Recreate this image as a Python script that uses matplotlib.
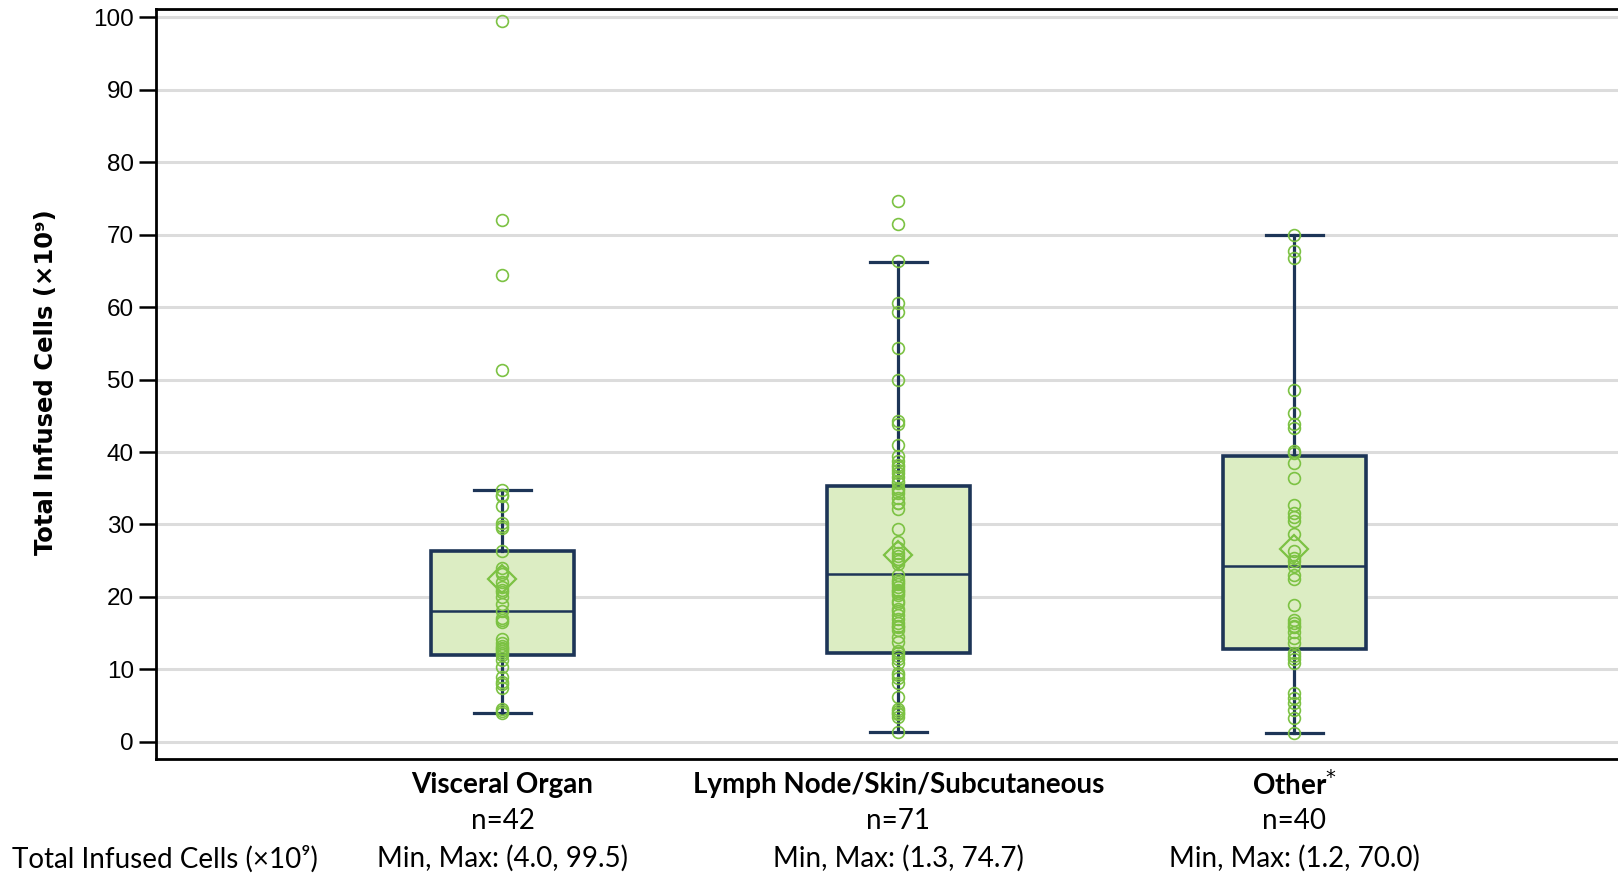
import matplotlib
matplotlib.use("Agg")
import matplotlib.pyplot as plt

# categories and summary stats
categories = ["Visceral Organ", "Lymph Node/Skin/Subcutaneous", "Other"]
n_counts = [42, 71, 40]
min_max = ["(4.0, 99.5)", "(1.3, 74.7)", "(1.2, 70.0)"]

q1 = [12.0, 12.3, 12.8]
medians = [18.0, 23.2, 24.3]
q3 = [26.4, 35.3, 39.4]
whisk_lo = [4.0, 1.3, 1.2]
whisk_hi = [34.8, 66.2, 70.0]
means = [22.5, 25.8, 26.6]

# individual patients
visceral = [99.5, 72.0, 64.4, 51.3, 34.8, 34.0, 33.9, 32.6, 30.2, 29.8, 29.5, 26.3,
            24.0, 23.5, 23.2, 22.0, 21.4, 21.0, 20.7, 20.0, 19.0, 18.0, 17.1, 16.8,
            16.5, 14.2, 13.7, 13.25, 13.0, 12.8, 12.5, 12.2, 12.0, 11.3, 10.4, 9.0,
            8.2, 8.0, 7.4, 4.6, 4.2, 4.0]
lymph = [74.7, 71.4, 66.3, 60.5, 59.3, 54.3, 50.0, 44.3, 43.8, 40.9, 39.4, 38.8,
         38.2, 37.9, 37.5, 37.1, 36.6, 36.0, 35.7, 35.0, 34.8, 34.3, 33.6, 33.0,
         32.9, 32.1, 29.4, 27.6, 26.7, 26.0, 25.6, 25.2, 24.9, 24.5, 23.0, 22.4,
         22.0, 21.8, 21.4, 21.0, 20.8, 20.5, 20.2, 19.5, 19.1, 18.4, 18.0, 17.5,
         17.0, 16.4, 16.0, 15.9, 15.5, 14.5, 13.8, 12.5, 12.2, 11.8, 11.5, 10.9,
         9.5, 9.2, 8.8, 8.1, 6.2, 4.6, 4.3, 4.0, 3.8, 3.5, 1.3]
other = [70.0, 67.8, 66.8, 48.6, 45.4, 43.9, 43.3, 40.2, 39.8, 38.5, 36.4, 32.7,
         31.6, 31.1, 30.5, 28.7, 26.3, 25.4, 24.9, 24.3, 23.0, 22.5, 18.9, 16.8,
         16.4, 16.0, 15.9, 15.2, 14.3, 13.6, 12.2, 11.8, 11.5, 10.9, 6.7, 6.0,
         5.3, 4.4, 3.3, 1.2]
groups = [visceral, lymph, other]

yticks = list(range(0, 101, 10))

green = "#7cc243"
navy = "#1d3557"
fill = "#dcedc3"

fig = plt.figure(figsize=(16.18, 8.76), dpi=100)
ax = fig.add_axes([0.0964, 0.1341, 0.9036, 0.8553])

positions = [1, 2, 3]
stats = []
for i in range(3):
    stats.append({"med": medians[i], "q1": q1[i], "q3": q3[i],
                  "whislo": whisk_lo[i], "whishi": whisk_hi[i],
                  "mean": means[i], "fliers": []})

ax.bxp(stats, positions=positions, widths=0.36, capwidths=0.145,
       showmeans=False, showfliers=False, patch_artist=True,
       boxprops=dict(facecolor=fill, edgecolor=navy, linewidth=2.6),
       medianprops=dict(color=navy, linewidth=1.8),
       whiskerprops=dict(color=navy, linewidth=2.3),
       capprops=dict(color=navy, linewidth=2.3), zorder=2)

for pos, vals in zip(positions, groups):
    ax.plot([pos] * len(vals), vals, linestyle="none", marker="o", markersize=8.5,
            markerfacecolor="none", markeredgecolor=green, markeredgewidth=1.2, zorder=3)

ax.plot(positions, means, linestyle="none", marker="D", markersize=14,
        markerfacecolor="none", markeredgecolor=green, markeredgewidth=1.6, zorder=4)

ax.set_xlim(0.125, 3.817)
ax.set_ylim(-2.3, 101.1)
ax.set_yticks(yticks)
ax.set_yticklabels([str(t) for t in yticks], fontsize=17.5, family="Liberation Sans")
ax.yaxis.grid(True, color="#dcdcdc", linewidth=2.2, zorder=0)
ax.set_axisbelow(True)
ax.set_xticks([])
ax.tick_params(axis="y", length=12, width=1.8, pad=4, color="black")
for side in ["left", "bottom", "top"]:
    ax.spines[side].set_linewidth(2.0)
    ax.spines[side].set_color("black")
ax.spines["right"].set_visible(False)

fig.text(46.4 / 1618, 1 - 382 / 876, "Total Infused Cells (×10⁹)", rotation=90,
         ha="center", va="center", fontsize=17.5, fontweight="bold",
         family="DejaVu Sans")

# labels under the axis
trans = ax.get_xaxis_transform()
for pos, cat, n, mm in zip(positions, categories, n_counts, min_max):
    label = cat + "$^{*}$" if cat == "Other" else cat
    ax.annotate(label, xy=(pos, 0), xycoords=trans, xytext=(0, -19),
                textcoords="offset points", ha="center", va="center",
                fontsize=20, fontweight="bold", family=["Lato", "DejaVu Sans"])
    ax.annotate("n=%d" % n, xy=(pos, 0), xycoords=trans, xytext=(0, -45),
                textcoords="offset points", ha="center", va="center",
                fontsize=20, family=["Lato", "DejaVu Sans"])
    ax.annotate("Min, Max: " + mm, xy=(pos, 0), xycoords=trans, xytext=(0, -72),
                textcoords="offset points", ha="center", va="center",
                fontsize=20, family=["Lato", "DejaVu Sans"])

fig.text(12.4 / 1618, 1 - 859 / 876, "Total Infused Cells (×10⁹)", ha="left",
         va="center", fontsize=20, family=["Lato", "DejaVu Sans"])

fig.savefig("out.png", dpi=100)
